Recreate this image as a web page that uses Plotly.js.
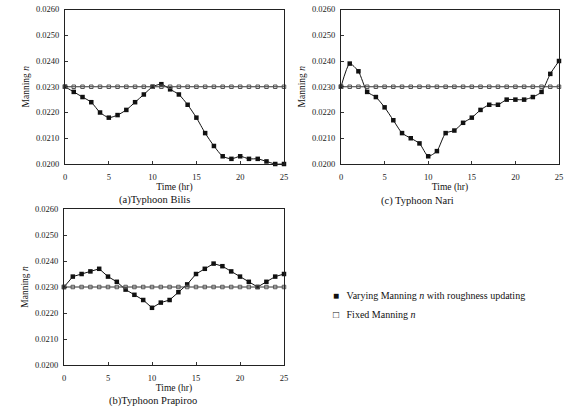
<!DOCTYPE html>
<html>
<head>
<meta charset="utf-8">
<script src="https://cdn.plot.ly/plotly-3.0.1.min.js"></script>
<style>
  html, body { margin: 0; padding: 0; background: #fff; }
  #chart { width: 570px; height: 411px; }
</style>
</head>
<body>
<div id="chart"></div>
<script>
// Simulation time (hours)
const hours = [0,1,2,3,4,5,6,7,8,9,10,11,12,13,14,15,16,17,18,19,20,21,22,23,24,25];

// Manning n with roughness updating, per typhoon
const bilisN = [0.0230,0.0228,0.0226,0.0224,0.0220,0.0218,0.0219,0.0221,0.0224,0.0227,0.0230,0.0231,0.0229,
                0.0227,0.0223,0.0218,0.0212,0.0207,0.0203,0.0202,0.0203,0.0202,0.0202,0.0201,0.0200,0.0200];
const prapirooN = [0.0230,0.0234,0.0235,0.0236,0.0237,0.0234,0.0232,0.0229,0.0227,0.0225,0.0222,0.0224,0.0225,
                   0.0228,0.0231,0.0235,0.0237,0.0239,0.0238,0.0236,0.0234,0.0232,0.0230,0.0232,0.0234,0.0235];
const nariN = [0.0230,0.0239,0.0236,0.0228,0.0226,0.0222,0.0217,0.0212,0.0210,0.0208,0.0203,0.0205,0.0212,
               0.0213,0.0216,0.0218,0.0221,0.0223,0.0223,0.0225,0.0225,0.0225,0.0226,0.0228,0.0235,0.0240];

// Constant Manning n used without updating
const fixedN = [0.0230,0.0230,0.0230,0.0230,0.0230,0.0230,0.0230,0.0230,0.0230,0.0230,0.0230,0.0230,0.0230,
                0.0230,0.0230,0.0230,0.0230,0.0230,0.0230,0.0230,0.0230,0.0230,0.0230,0.0230,0.0230,0.0230];

const yTicks = [0.0200,0.0210,0.0220,0.0230,0.0240,0.0250,0.0260];
const xTicks = [0,5,10,15,20,25];

const panels = [
  { x: 'x',  y: 'y',  data: bilisN,    shape: 'spline' },
  { x: 'x2', y: 'y2', data: nariN,     shape: 'spline' },
  { x: 'x3', y: 'y3', data: prapirooN, shape: 'linear' }
];

const SERIF = 'Liberation Serif, Times New Roman, serif';
const traces = [];
panels.forEach(p => {
  traces.push({
    x: hours, y: p.data, xaxis: p.x, yaxis: p.y,
    type: 'scatter', mode: 'lines+markers', showlegend: false, cliponaxis: false,
    line: { color: '#111', width: 1, shape: p.shape, smoothing: 0.6 },
    marker: { symbol: 'square', size: 4.5, color: '#111' }
  });
  traces.push({
    x: hours, y: fixedN, xaxis: p.x, yaxis: p.y,
    type: 'scatter', mode: 'lines+markers', showlegend: false, cliponaxis: false,
    line: { color: '#333', width: 1 },
    marker: { symbol: 'square-open', size: 3.5, color: '#555', line: { width: 1 } }
  });
});

function xAxis(domain, anchor) {
  return {
    domain: domain, anchor: anchor, range: [0, 25],
    tickvals: xTicks, ticks: 'inside', ticklen: 3, tickcolor: '#333',
    ticklabelstandoff: 5,
    showgrid: false, zeroline: false, showline: true, mirror: true,
    linecolor: '#222', linewidth: 1,
    tickfont: { family: SERIF, size: 8.5, color: '#222' },
    title: { text: 'Time (hr)', font: { family: SERIF, size: 9.5, color: '#111' }, standoff: 1 }
  };
}
function yAxis(domain, anchor) {
  return {
    domain: domain, anchor: anchor, range: [0.0200, 0.0260],
    tickvals: yTicks, tickformat: '.4f', ticks: 'inside', ticklen: 3, tickcolor: '#333',
    ticklabelstandoff: 3,
    showgrid: false, zeroline: false, showline: true, mirror: true,
    linecolor: '#222', linewidth: 1,
    tickfont: { family: SERIF, size: 8.5, color: '#222' },
    title: { text: 'Manning <i>n</i>', font: { family: SERIF, size: 9.5, color: '#111' }, standoff: 4 }
  };
}

const layout = {
  width: 570, height: 411,
  margin: { l: 0, r: 0, t: 0, b: 0 },
  paper_bgcolor: '#fff', plot_bgcolor: '#fff',
  xaxis:  xAxis([65/570, 284/570], 'y'),
  yaxis:  yAxis([1 - 164/411, 1 - 9.5/411], 'x'),
  xaxis2: xAxis([341/570, 559/570], 'y2'),
  yaxis2: yAxis([1 - 164/411, 1 - 9.5/411], 'x2'),
  xaxis3: xAxis([64/570, 284/570], 'y3'),
  yaxis3: yAxis([1 - 365/411, 1 - 209/411], 'x3'),
  annotations: [
    { text: '(a)Typhoon Bilis', xref: 'paper', yref: 'paper', x: 154/570, y: 1 - 200/411,
      showarrow: false, xanchor: 'center', yanchor: 'middle', font: { family: SERIF, size: 10.5, color: '#111' } },
    { text: '(c) Typhoon Nari', xref: 'paper', yref: 'paper', x: 417/570, y: 1 - 201/411,
      showarrow: false, xanchor: 'center', yanchor: 'middle', font: { family: SERIF, size: 10.5, color: '#111' } },
    { text: '(b)Typhoon Prapiroo', xref: 'paper', yref: 'paper', x: 153/570, y: 1 - 400.5/411,
      showarrow: false, xanchor: 'center', yanchor: 'middle', font: { family: SERIF, size: 10.5, color: '#111' } },
    { text: '■&#160;&#160;&#160;Varying Manning <i>n</i> with roughness updating', xref: 'paper', yref: 'paper',
      x: 331/570, y: 1 - 295/411, showarrow: false, xanchor: 'left', yanchor: 'middle',
      font: { family: SERIF, size: 10, color: '#111' } },
    { text: '□&#160;&#160;&#160;Fixed Manning <i>n</i>', xref: 'paper', yref: 'paper',
      x: 331/570, y: 1 - 314/411, showarrow: false, xanchor: 'left', yanchor: 'middle',
      font: { family: SERIF, size: 10, color: '#111' } }
  ]
};

Plotly.newPlot('chart', traces, layout, { staticPlot: true, displayModeBar: false });
</script>
</body>
</html>
